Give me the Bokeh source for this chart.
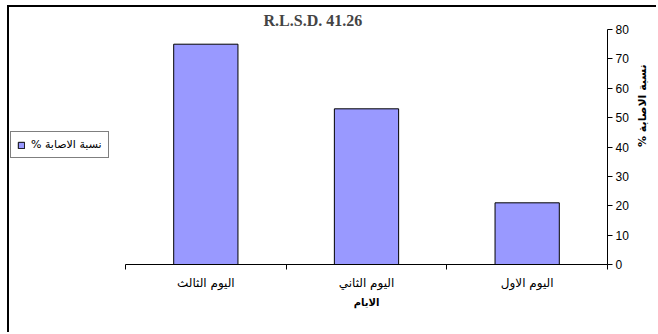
import math

from bokeh.plotting import figure
from bokeh.models import (ColumnDataSource, Range1d, FixedTicker, Legend,
                          LegendItem, LinearAxis)
from bokeh.embed import file_html
from bokeh.resources import INLINE

# Infection percentage per day
days = ["اليوم الاول", "اليوم الثاني", "اليوم الثالث"]
infection = [21, 53, 75]

RLM = "\u200f"  # keeps the trailing % inside the right-to-left run
chart_title = "R.L.S.D. 41.26"
series_name = "نسبة الاصابة %" + RLM
x_title = "الايام"
y_title = "نسبة الاصابة %" + RLM
y_ticks = [0, 10, 20, 30, 40, 50, 60, 70, 80]

AR_FONT = "DejaVu Sans"
NUM_FONT = "Liberation Sans"

# Days run right-to-left: the first day sits in the rightmost slot
n = len(days)
centers = [n - i - 0.5 for i in range(n)]
edges = list(range(n + 1))

# The plotting frame also spans the empty strip left of the bars, where the
# legend sits; the category slots take the rightmost DATA_PX pixels.
CANVAS_W, CANVAS_H = 649, 327
RIGHT_PANEL = 51
DATA_PX = 482
frame_px = CANVAS_W - RIGHT_PANEL
x_start = -n * (frame_px - DATA_PX) / DATA_PX

source = ColumnDataSource(data=dict(x=centers, day=days, pct=infection))

p = figure(width=CANVAS_W, height=CANVAS_H,
           x_range=Range1d(x_start, n), y_range=Range1d(0, 80),
           y_axis_location="right",
           output_backend="svg", toolbar_location=None,
           min_border_left=0, min_border_right=RIGHT_PANEL,
           min_border_top=22, min_border_bottom=70,
           outline_line_color=None, background_fill_color="white",
           border_fill_color="white")
p.grid.visible = False

# Chart-area border: only its left and top edges fall inside the page
p.margin = (5, 0, 0, 7)
p.styles = {"border-left": "2px solid #000", "border-top": "2px solid #000"}

bars = p.vbar(x="x", top="pct", width=0.4, source=source,
              fill_color="#9999FF", line_color="black", line_width=1)

# x axis: labels at slot centres, tick marks on slot boundaries
xax = p.xaxis[0]
xax.bounds = (0, n)
xax.ticker = FixedTicker(ticks=centers, minor_ticks=edges)
xax.major_label_overrides = {c: d for c, d in zip(centers, days)}
xax.major_tick_line_color = None
xax.major_tick_out = 0
xax.major_tick_in = 0
xax.minor_tick_line_color = "black"
xax.minor_tick_out = 5
xax.minor_tick_in = 0
xax.axis_line_color = "black"
xax.major_label_standoff = 6
xax.major_label_text_font = AR_FONT
xax.major_label_text_font_size = "12px"
xax.major_label_text_color = "black"

# x-axis title, centred under the category slots
x_mid = n / 2
x_title_axis = LinearAxis(bounds=(0, n), ticker=FixedTicker(ticks=[x_mid]),
                          major_label_overrides={x_mid: x_title},
                          axis_line_color=None, major_tick_line_color=None,
                          minor_tick_line_color=None,
                          major_tick_out=0, major_tick_in=0,
                          major_label_standoff=4,
                          major_label_text_font=AR_FONT,
                          major_label_text_font_size="10px",
                          major_label_text_font_style="bold",
                          major_label_text_color="black")
p.add_layout(x_title_axis, "below")

yax = p.yaxis[0]
yax.ticker = FixedTicker(ticks=y_ticks)
yax.major_tick_out = 5
yax.major_tick_in = 0
yax.minor_tick_line_color = None
yax.axis_line_color = "black"
yax.major_tick_line_color = "black"
yax.major_label_standoff = 3
yax.major_label_text_font = NUM_FONT
yax.major_label_text_font_size = "12px"
yax.major_label_text_color = "black"

# y-axis title, rotated to read bottom-to-top, centred on the value range
y_mid = (y_ticks[0] + y_ticks[-1]) / 2
y_title_axis = LinearAxis(ticker=FixedTicker(ticks=[y_mid]),
                          major_label_overrides={y_mid: y_title},
                          major_label_orientation=math.pi / 2,
                          axis_line_color=None, major_tick_line_color=None,
                          minor_tick_line_color=None,
                          major_tick_out=0, major_tick_in=0,
                          major_label_standoff=11,
                          major_label_text_font=AR_FONT,
                          major_label_text_font_size="11px",
                          major_label_text_font_style="bold",
                          major_label_text_color="black")
p.add_layout(y_title_axis, "right")

p.title.text = chart_title
p.title.text_font = "Liberation Serif"
p.title.text_font_size = "16px"
p.title.text_font_style = "bold"
p.title.align = "left"
p.title.offset = 254
p.title.standoff = 1

legend = Legend(items=[LegendItem(label=series_name, renderers=[bars])],
                location=(1, 106), orientation="vertical",
                border_line_color="black", border_line_width=1,
                background_fill_color="white", background_fill_alpha=1,
                padding=6, margin=0, spacing=0,
                glyph_width=8, glyph_height=8, label_standoff=6,
                label_height=12,
                label_text_font=AR_FONT, label_text_font_size="11px",
                label_text_color="black")
p.add_layout(legend)

open("out.html", "w").write(file_html(p, INLINE))
